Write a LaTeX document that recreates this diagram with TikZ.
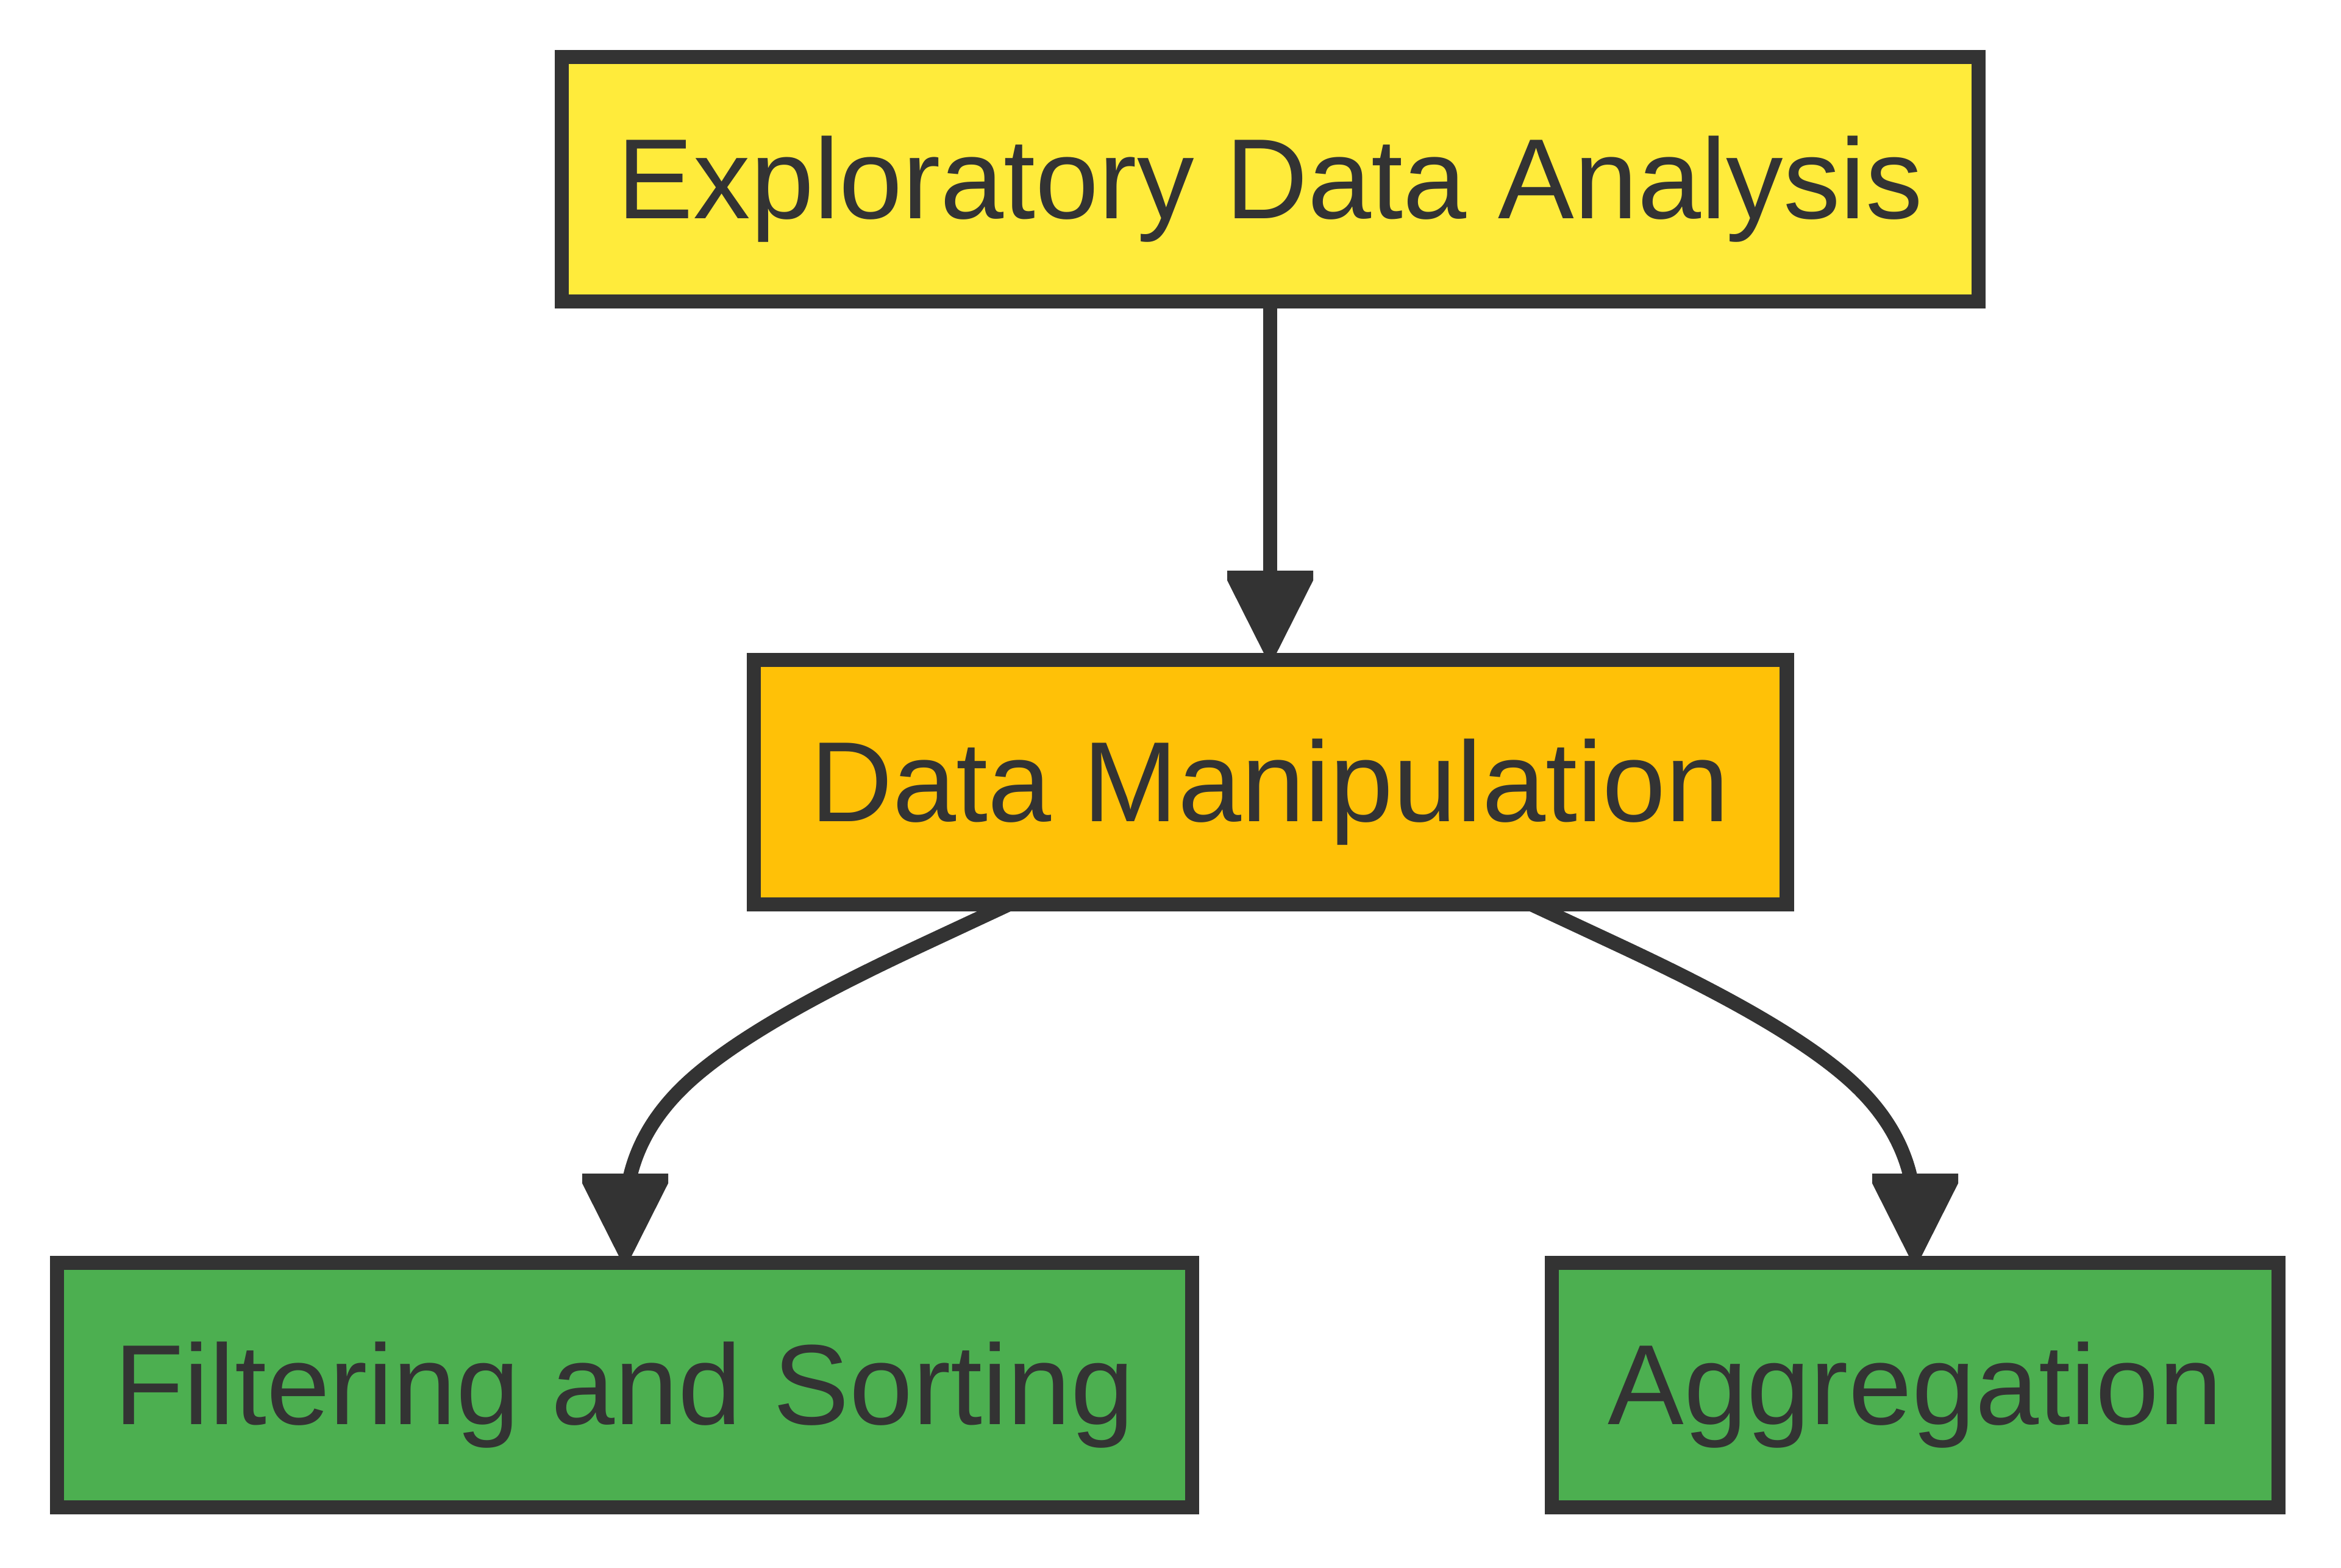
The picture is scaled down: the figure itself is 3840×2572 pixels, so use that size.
\documentclass[tikz,border=0pt]{standalone}
\usepackage{fontspec}
\setmainfont{Liberation Sans}
\usetikzlibrary{calc,backgrounds}
\definecolor{ink}{HTML}{333333}
\definecolor{edafill}{HTML}{FFEB3B}
\definecolor{dmfill}{HTML}{FFC107}
\definecolor{leaffill}{HTML}{4CAF50}
\begin{document}
\begin{tikzpicture}[x=0.2pt,y=-0.2pt,
  box/.style={draw=ink, line width=4.66pt, rectangle, minimum height=80.14pt,
    inner sep=0pt, outer sep=0pt, text=ink, font=\fontsize{37.4}{44}\selectfont,
    text height=25.6pt, text depth=0pt},
  edge/.style={draw=ink, line width=4.66pt},
  tiphead/.style={fill=ink}]
\useasboundingbox (0,0) rectangle (3840,2572);
\begin{scope}[on background layer]
  \fill[white] (0,0) rectangle (3840,2572);
\end{scope}
\node[box, fill=edafill, minimum width=464.74pt] (eda) at (2083.5,294) {Exploratory Data Analysis};
\node[box, fill=dmfill, minimum width=338.94pt] (dm) at (2083.5,1283) {Data Manipulation};
\node[box, fill=leaffill, minimum width=372.34pt] (fs) at (1024.5,2272) {Filtering and Sorting};
\node[box, fill=leaffill, minimum width=238.34pt] (agg) at (3141.5,2272) {Aggregation};
\begin{scope}[on background layer]
  \draw[edge] (eda.south) -- ($(dm.north)+(0,-140)$);
  \draw[edge] ($(dm.south)+(-426.3,-1)$) -- (1529.25,1542.1)
    .. controls (1428.5,1589.2) and (1227,1683.4) .. (1126.25,1777.6)
    .. controls (1065.8,1834.1) and (1041.6,1890.6) .. ($(fs.north)+(7.4,-134.75)$);
  \draw[edge] ($(dm.south)+(426.3,-1)$) -- (2637.75,1542.1)
    .. controls (2738.5,1589.2) and (2940,1683.4) .. (3040.75,1777.6)
    .. controls (3101.2,1834.1) and (3125.4,1890.6) .. ($(agg.north)+(-6.4,-134.75)$);
\end{scope}
\fill[tiphead] ($(dm.north)+(0,9.35)$) -- ++(70.5,-140) -- ++(0,-16) -- ++(-141,0) -- ++(0,16) -- cycle;
\fill[tiphead] ($(fs.north)+(1,9.35)$) -- ++(70.5,-140) -- ++(0,-16) -- ++(-141,0) -- ++(0,16) -- cycle;
\fill[tiphead] ($(agg.north)+(0,9.35)$) -- ++(70.5,-140) -- ++(0,-16) -- ++(-141,0) -- ++(0,16) -- cycle;
\end{tikzpicture}
\end{document}
